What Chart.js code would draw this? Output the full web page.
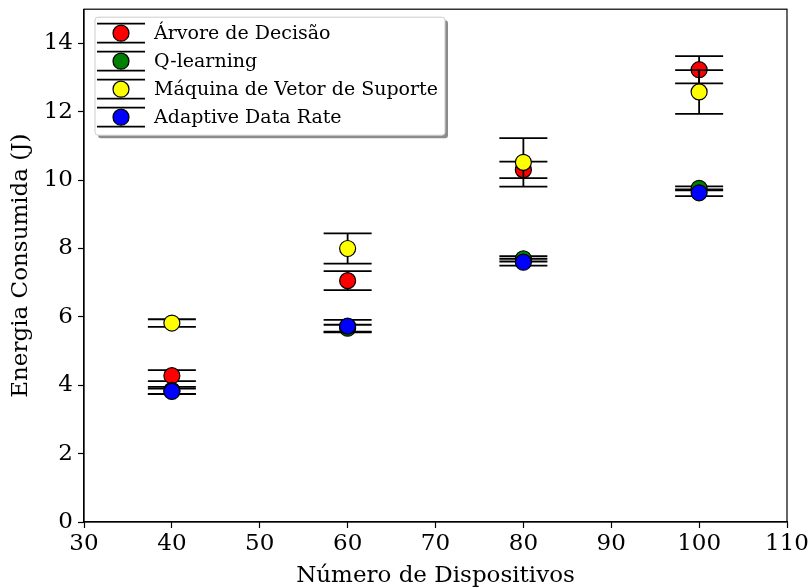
<!DOCTYPE html>
<html>
<head>
<meta charset="utf-8">
<script src="https://cdn.jsdelivr.net/npm/chart.js@4.4.1/dist/chart.umd.min.js"></script>
<style>
  body { margin: 0; background: #fff; }
  canvas { display: block; }
</style>
</head>
<body>
<canvas id="chart" width="811" height="588"></canvas>
<script>
// Data
const devices = [40, 60, 80, 100];
const seriesNames = ["Árvore de Decisão", "Q-learning", "Máquina de Vetor de Suporte", "Adaptive Data Rate"];
const seriesColors = ["#ff0000", "#008000", "#ffff00", "#0000ff"];

const arvore = [4.28, 7.06, 10.30, 13.23];
const arvoreErr = [0.16, 0.28, 0.24, 0.40];
const qlearning = [3.85, 5.67, 7.70, 9.76];
const qlearningErr = [0.10, 0.10, 0.08, 0.06];
const svm = [5.82, 8.00, 10.52, 12.58];
const svmErr = [0.11, 0.44, 0.71, 0.64];
const adr = [3.82, 5.73, 7.60, 9.63];
const adrErr = [0.08, 0.18, 0.10, 0.10];

const xTicks = [30, 40, 50, 60, 70, 80, 90, 100, 110];
const yTicks = [0, 2, 4, 6, 8, 10, 12, 14];

const values = [arvore, qlearning, svm, adr];
const errors = [arvoreErr, qlearningErr, svmErr, adrErr];

const FONT = "'DejaVu Serif', serif";

// error bars drawn right before each dataset's markers
const errorBars = {
  id: "errorBars",
  beforeDatasetDraw(chart, args) {
    const ds = chart.data.datasets[args.index];
    const x = chart.scales.x, y = chart.scales.y;
    const ctx = chart.ctx;
    ctx.save();
    ctx.strokeStyle = "#000";
    ctx.lineWidth = 1.8;
    ds.data.forEach((p, i) => {
      const px = x.getPixelForValue(p.x);
      const top = y.getPixelForValue(p.y + ds.err[i]);
      const bot = y.getPixelForValue(p.y - ds.err[i]);
      ctx.beginPath();
      ctx.moveTo(px, top); ctx.lineTo(px, bot);
      ctx.moveTo(px - 24, top); ctx.lineTo(px + 24, top);
      ctx.moveTo(px - 24, bot); ctx.lineTo(px + 24, bot);
      ctx.stroke();
    });
    ctx.restore();
  }
};

// frame + legend box
const frameAndLegend = {
  id: "frameAndLegend",
  afterDraw(chart) {
    const ctx = chart.ctx;
    const a = chart.chartArea;
    ctx.save();
    ctx.strokeStyle = "#000";
    ctx.lineWidth = 1.2;
    ctx.strokeRect(a.left, a.top, a.right - a.left, a.bottom - a.top);

    // legend
    const bx = a.left + 11, by = a.top + 8, bw = 350, bh = 118;
    ctx.fillStyle = "rgba(0,0,0,0.45)";
    ctx.beginPath();
    ctx.roundRect(bx + 3, by + 3, bw, bh, 3);
    ctx.fill();
    ctx.fillStyle = "#fff";
    ctx.strokeStyle = "#cccccc";
    ctx.lineWidth = 1;
    ctx.beginPath();
    ctx.roundRect(bx, by, bw, bh, 3);
    ctx.fill();
    ctx.stroke();

    chart.data.datasets.forEach((ds, i) => {
      const cy = by + 16 + i * 28;
      const cx = bx + 26;
      ctx.strokeStyle = "#000";
      ctx.lineWidth = 1.8;
      ctx.beginPath();
      ctx.moveTo(cx - 24, cy - 9.5); ctx.lineTo(cx + 24, cy - 9.5);
      ctx.moveTo(cx - 24, cy + 9.5); ctx.lineTo(cx + 24, cy + 9.5);
      ctx.stroke();
      ctx.fillStyle = ds.backgroundColor;
      ctx.lineWidth = 1.2;
      ctx.beginPath();
      ctx.arc(cx, cy, 8, 0, Math.PI * 2);
      ctx.fill();
      ctx.stroke();
      ctx.fillStyle = "#000";
      ctx.font = "19px " + FONT;
      ctx.textBaseline = "middle";
      ctx.fillText(ds.label, bx + 59, cy + 1);
    });
    ctx.restore();
  }
};

const datasets = seriesNames.map((name, s) => ({
  label: name,
  data: devices.map((d, i) => ({ x: d, y: values[s][i] })),
  err: errors[s],
  backgroundColor: seriesColors[s],
  borderColor: "#000",
  pointRadius: 8,
  pointHoverRadius: 8,
  pointBorderWidth: 1.2,
  showLine: false,
  order: seriesNames.length - s
}));

new Chart(document.getElementById("chart"), {
  type: "scatter",
  data: { datasets },
  options: {
    responsive: false,
    animation: false,
    events: [],
    layout: { padding: { top: 9, right: 24, left: 0, bottom: 0 } },
    plugins: { legend: { display: false }, tooltip: { enabled: false } },
    scales: {
      x: {
        type: "linear",
        min: 30, max: 110,
        afterBuildTicks: (s) => { s.ticks = xTicks.map(v => ({ value: v })); },
        afterFit: (s) => { s.height = 66; s.paddingLeft = 0; s.paddingRight = 0; },
        ticks: { color: "#000", font: { family: FONT, size: 23 }, padding: 2 },
        grid: { drawOnChartArea: false, color: "#000", tickLength: 6, tickWidth: 1.2 },
        border: { color: "#000", width: 1.2 },
        title: { display: true, text: "Número de Dispositivos", color: "#000",
                 font: { family: FONT, size: 23 }, padding: { top: 0, bottom: -2 } }
      },
      y: {
        type: "linear",
        min: 0, max: 15,
        afterBuildTicks: (s) => { s.ticks = yTicks.map(v => ({ value: v })); },
        afterFit: (s) => { s.width = 84; s.paddingTop = 0; s.paddingBottom = 0; },
        ticks: { color: "#000", font: { family: FONT, size: 23 }, padding: 5 },
        grid: { drawOnChartArea: false, color: "#000", tickLength: 6, tickWidth: 1.2 },
        border: { color: "#000", width: 1.2 },
        title: { display: true, text: "Energia Consumida (J)", color: "#000",
                 font: { family: FONT, size: 23 }, padding: { top: 7, bottom: 0 } }
      }
    }
  },
  plugins: [errorBars, frameAndLegend]
});
</script>
</body>
</html>
